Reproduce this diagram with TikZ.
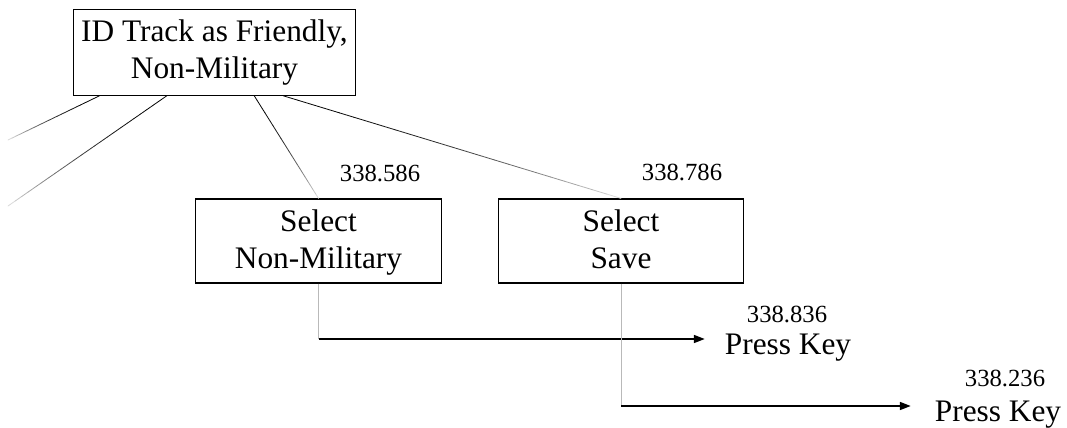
\documentclass[tikz,border=0pt]{standalone}
\usepackage{fontspec}
\setmainfont{Liberation Serif}
\usepackage{tikz}
\usetikzlibrary{calc}
\usetikzlibrary{arrows.meta}

\tikzset{
  taskbox/.style={draw, line width=0.9pt, rectangle, align=center, inner sep=0pt,
    minimum width=#1, minimum height=63pt, font=\fontsize{23.5}{27.5}\selectfont},
  timelabel/.style={inner sep=0pt, anchor=base, font=\fontsize{18.5}{20}\selectfont},
  keylabel/.style={inner sep=0pt, anchor=base, font=\fontsize{23.5}{27.5}\selectfont},
  stepline/.style={black, line width=1pt, -{Triangle[length=8pt, width=6pt]}},
  dropline/.style={gray!55, line width=0.6pt},
}

% shallow strut for the last line of a box
\newcommand{\lowstrut}{\rule[-5.3pt]{0pt}{1pt}}

% line that goes from black to pale grey
\newcommand{\fadeline}[2]{%
  \foreach \i in {0,...,23}{%
    \pgfmathsetmacro{\s}{\i/24}%
    \pgfmathsetmacro{\e}{(\i+1)/24}%
    \pgfmathtruncatemacro{\k}{100-88*((\i+0.5)/24)^2}%
    \draw[black!\k, line width=0.6pt, line cap=round] ($(#1)!\s!(#2)$) -- ($(#1)!\e!(#2)$);
  }}

\begin{document}
\begin{tikzpicture}[x=0.75pt, y=-0.75pt]
  \useasboundingbox (0,0) rectangle (1067,428);

  \node[taskbox=212pt, minimum height=64pt] (idtrack) at (214.5,52.5) {ID Track as Friendly,\strut\\Non-Military\strut};
  \node[taskbox=184pt] (selnonmil) at (318.5,241) {Select\strut\\Non-Military\lowstrut};
  \node[taskbox=184pt] (selsave) at (621,241) {Select\strut\\Save\lowstrut};

  \node[timelabel] (t586) at (380,181) {338.586};
  \node[timelabel] (t786) at (682,180) {338.786};
  \node[timelabel] (t836) at (787,322) {338.836};
  \node[keylabel] (key1) at (788,354) {Press Key};
  \node[timelabel] (t236) at (1005,386) {338.236};
  \node[keylabel] (key2) at (998,421) {Press Key};

  % branches out of the top box
  \coordinate (out1) at ($(idtrack.south west)!0.095!(idtrack.south east)$);
  \coordinate (out2) at ($(idtrack.south west)!0.332!(idtrack.south east)$);
  \coordinate (out3) at ($(idtrack.south west)!0.640!(idtrack.south east)$);
  \coordinate (out4) at ($(idtrack.south west)!0.742!(idtrack.south east)$);
  \coordinate (left1) at (8,140);
  \coordinate (left2) at (8,206);

  \fadeline{out1}{left1}
  \fadeline{out2}{left2}
  \fadeline{out3}{selnonmil.north}
  \fadeline{out4}{selsave.north}

  % key presses
  \coordinate (tip1) at ($(key1.base west)+(-20,-15)$);
  \coordinate (tip2) at ($(key2.base west)+(-24,-15)$);

  \draw[dropline] (selnonmil.south) -- (selnonmil.south |- tip1);
  \draw[stepline] (selnonmil.south |- tip1) -- (tip1);
  \draw[dropline] (selsave.south) -- (selsave.south |- tip2);
  \draw[stepline] (selsave.south |- tip2) -- (tip2);

\end{tikzpicture}
\end{document}
